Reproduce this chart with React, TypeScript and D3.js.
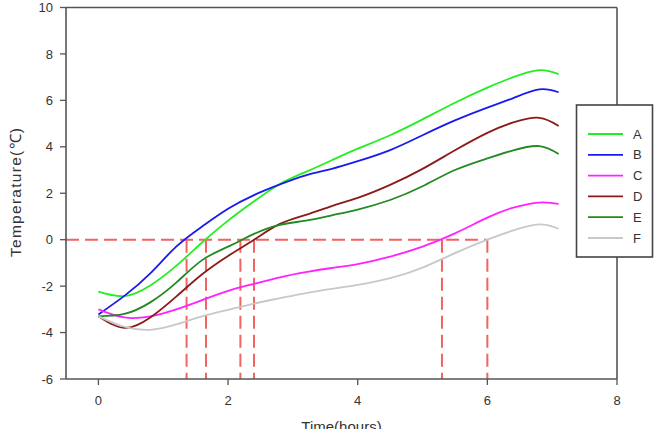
import * as d3 from 'd3';
import React from 'react';

const WIDTH = 658;
const HEIGHT = 429;
const FONT = 'Arial, "Liberation Sans", Helvetica, sans-serif';

// time points (hours) shared by all series
const hours = [0, 0.4, 0.8, 1.2, 1.6, 2.0, 2.4, 2.8, 3.2, 3.6, 4.0, 4.5, 5.0, 5.5, 6.0, 6.4, 6.8, 7.1];

const seriesA = [-2.24, -2.43, -1.97, -1.13, -0.12, 0.82, 1.65, 2.4, 2.92, 3.42, 3.92, 4.5, 5.18, 5.9, 6.55, 7.0, 7.3, 7.13];
const seriesB = [-3.22, -2.42, -1.45, -0.3, 0.57, 1.33, 1.92, 2.38, 2.77, 3.05, 3.38, 3.86, 4.5, 5.14, 5.69, 6.1, 6.47, 6.35];
const seriesC = [-3.0, -3.35, -3.3, -3.0, -2.6, -2.2, -1.9, -1.62, -1.4, -1.22, -1.05, -0.73, -0.3, 0.27, 0.95, 1.38, 1.6, 1.54];
const seriesD = [-3.3, -3.8, -3.35, -2.45, -1.49, -0.7, 0, 0.68, 1.07, 1.45, 1.8, 2.36, 3.05, 3.85, 4.6, 5.05, 5.25, 4.9];
const seriesE = [-3.3, -3.2, -2.7, -1.85, -0.88, -0.3, 0.25, 0.64, 0.82, 1.05, 1.3, 1.71, 2.3, 3.0, 3.5, 3.85, 4.03, 3.69];
const seriesF = [-3.3, -3.75, -3.88, -3.65, -3.3, -3.02, -2.75, -2.52, -2.3, -2.12, -1.95, -1.66, -1.2, -0.58, 0, 0.4, 0.66, 0.47];

const labels = ['A', 'B', 'C', 'D', 'E', 'F'];
const colors = ['#22ee22', '#1a1aee', '#ff22ff', '#8b1a1a', '#218a21', '#c8c8c8'];
const allSeries = [seriesA, seriesB, seriesC, seriesD, seriesE, seriesF];

// hours where each curve crosses 0 °C (B, A, E, D, C, F)
const zeroCrossings = [1.36, 1.66, 2.19, 2.4, 5.3, 6.0];

const xTicks = [0, 2, 4, 6, 8];
const yTicks = [-6, -4, -2, 0, 2, 4, 6, 8, 10];

const plot = { left: 66, right: 617, top: 7.5, bottom: 379 };

export default function App() {
  const x = d3.scaleLinear().domain([-0.5, 8]).range([plot.left, plot.right]);
  const y = d3.scaleLinear().domain([-6, 10]).range([plot.bottom, plot.top]);

  const line = d3
    .line<number>()
    .x((_, i) => x(hours[i]))
    .y(d => y(d))
    .curve(d3.curveNatural);

  const axisColor = '#555';
  const textColor = '#333';
  const dashColor = '#f04848';

  const legend = { x: 576.5, y: 105, w: 76, h: 152, rowY: 134, step: 20.8 };

  return (
    <svg
      width={WIDTH}
      height={HEIGHT}
      style={{ position: 'absolute', left: 0, top: 0, background: '#fff' }}
      fontFamily={FONT}
    >
      {/* dashed reference lines */}
      <g stroke={dashColor} strokeWidth={2} strokeDasharray="13,6" opacity={0.85} fill="none">
        <line x1={plot.left} x2={x(d3.max(zeroCrossings) as number)} y1={y(0)} y2={y(0)} />
        {zeroCrossings.map(t => (
          <line key={t} x1={x(t)} x2={x(t)} y1={y(0)} y2={plot.bottom} />
        ))}
      </g>

      {/* curves */}
      {allSeries.map((s, i) => (
        <path key={labels[i]} d={line(s) || ''} fill="none" stroke={colors[i]} strokeWidth={1.8} />
      ))}

      {/* frame */}
      <g stroke={axisColor} strokeWidth={1.6} fill="none">
        <line x1={plot.left} x2={plot.right} y1={plot.top} y2={plot.top} />
        <line x1={plot.right} x2={plot.right} y1={plot.top} y2={plot.bottom} />
        <line x1={plot.left} x2={plot.left} y1={plot.top} y2={plot.bottom} />
        <line x1={plot.left} x2={plot.right} y1={plot.bottom} y2={plot.bottom} />
      </g>

      {/* y axis */}
      {yTicks.map(t => (
        <g key={t} transform={`translate(0,${y(t)})`}>
          <line x1={plot.left - 6} x2={plot.left} stroke={axisColor} strokeWidth={1.3} />
          <text x={plot.left - 13} dy="0.35em" textAnchor="end" fontSize={13} fill={textColor}>
            {t}
          </text>
        </g>
      ))}

      {/* x axis */}
      {xTicks.map(t => (
        <g key={t} transform={`translate(${x(t)},0)`}>
          <line y1={plot.bottom} y2={plot.bottom + 6} stroke={axisColor} strokeWidth={1.3} />
          <text y={plot.bottom + 26} textAnchor="middle" fontSize={13} fill={textColor}>
            {t}
          </text>
        </g>
      ))}

      <text
        x={(plot.left + plot.right) / 2}
        y={432}
        textAnchor="middle"
        fontSize={15}
        fill={textColor}
      >
        Time(hours)
      </text>
      <text
        transform={`translate(21,192.5) rotate(-90)`}
        textAnchor="middle"
        fontSize={15.5}
        textLength={129}
        lengthAdjust="spacing"
        fill={textColor}
      >
        Temperature(℃)
      </text>

      {/* legend */}
      <rect
        x={legend.x}
        y={legend.y}
        width={legend.w}
        height={legend.h}
        fill="#fff"
        stroke="#444"
        strokeWidth={1.6}
      />
      {labels.map((lab, i) => {
        const ly = legend.rowY + i * legend.step;
        return (
          <g key={lab}>
            <line x1={588} x2={623} y1={ly} y2={ly} stroke={colors[i]} strokeWidth={1.8} />
            <text x={633} y={ly} dy="0.36em" fontSize={13} fill={textColor}>
              {lab}
            </text>
          </g>
        );
      })}
    </svg>
  );
}
